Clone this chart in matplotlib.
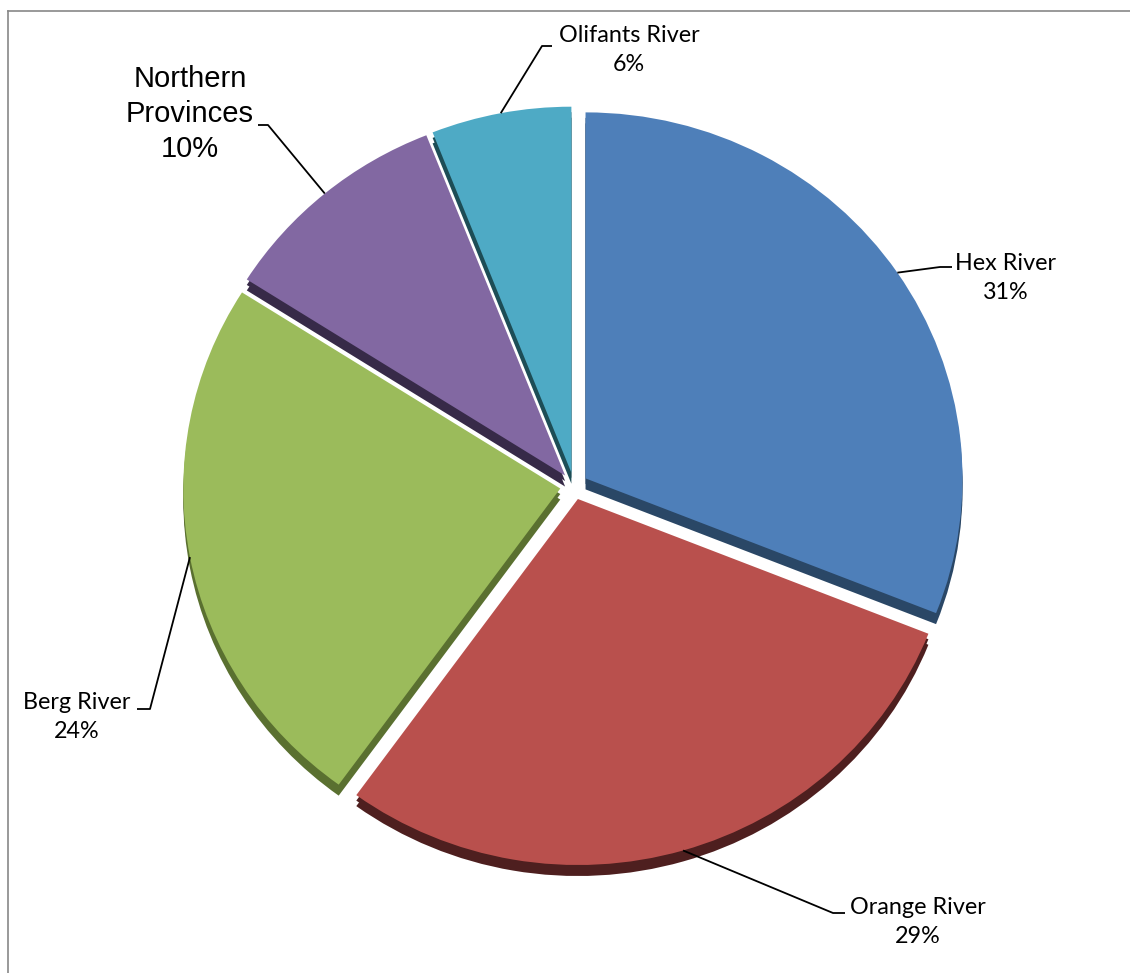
import matplotlib.pyplot as plt
import numpy as np

# data
labels = ['Hex River', 'Orange River', 'Berg River', 'Northern\nProvinces', 'Olifants River']
shares = [31, 29, 24, 10, 6]
face_cols = ['#4E7FB9', '#B9504D', '#9BBB5B', '#8268A2', '#4EAAC5']
side_cols = ['#2A4766', '#4E1F1F', '#5A7030', '#372A48', '#1D4D56']

W, H = 1130, 973
fig = plt.figure(figsize=(W/100, H/100), dpi=100)
ax = fig.add_axes([0, 0, 1, 1])

# pie geometry in pixels (radius 1 in data units, squashed a bit vertically)
cx, cy = 574, 486
rx, ry = 377, 366
ax.axis('off')

def px(x, y):
    return (x-cx)/rx, (cy-y)/ry

expl = [0.037]*5
depth = 11/ry

# sides first, shifted down, then faces
ax.pie(shares, colors=side_cols, startangle=90, counterclock=False,
       explode=expl, center=(0, -depth), wedgeprops=dict(linewidth=0))
ax.pie(shares, colors=side_cols, startangle=90, counterclock=False,
       explode=expl, center=(0, -depth/2), wedgeprops=dict(linewidth=0))
wedges, _ = ax.pie(shares, colors=face_cols, startangle=90, counterclock=False,
                   explode=expl, center=(0, 0), wedgeprops=dict(linewidth=0))
ax.set_aspect('auto')
ax.set_xlim(-cx/rx, (W-cx)/rx)
ax.set_ylim(-(H-cy)/ry, cy/ry)

# label layout: text centre, elbow, end of leader (pixels)
text_pos = [(1006, 278), (918, 922), (77, 717), (190, 114), (629, 50)]
elbows = [(940, 267), (833, 913), (150, 709), (268, 125), (542, 46)]
ends = [(952, 267), (845, 913), (137, 709), (258, 125), (552, 46)]

for i, w in enumerate(wedges):
    mid = np.deg2rad((w.theta1 + w.theta2)/2)
    r0 = 1 + expl[i]
    x0, y0 = r0*np.cos(mid), r0*np.sin(mid)
    ex, ey = px(*elbows[i])
    fx, fy = px(*ends[i])
    ax.plot([x0, ex, fx], [y0, ey, fy], color='black', lw=1.3,
            solid_capstyle='butt')
    tx, ty = px(*text_pos[i])
    txt = f'{labels[i]}\n{shares[i]}%'
    if i == 3:
        ax.text(tx, ty, txt, ha='center', va='center', fontsize=21,
                family='Liberation Sans', linespacing=1.33)
    else:
        ax.text(tx, ty, txt, ha='center', va='center', fontsize=16.8,
                family='Lato', linespacing=1.5)

# chart border (only left and top edges are inside the picture)
fig.add_artist(plt.Line2D([8/W, 8/W], [0, 1-11/H], color='#888888', lw=1.2))
fig.add_artist(plt.Line2D([8/W, 1], [1-11/H, 1-11/H], color='#888888', lw=1.2))

fig.savefig('out.png', dpi=100)
